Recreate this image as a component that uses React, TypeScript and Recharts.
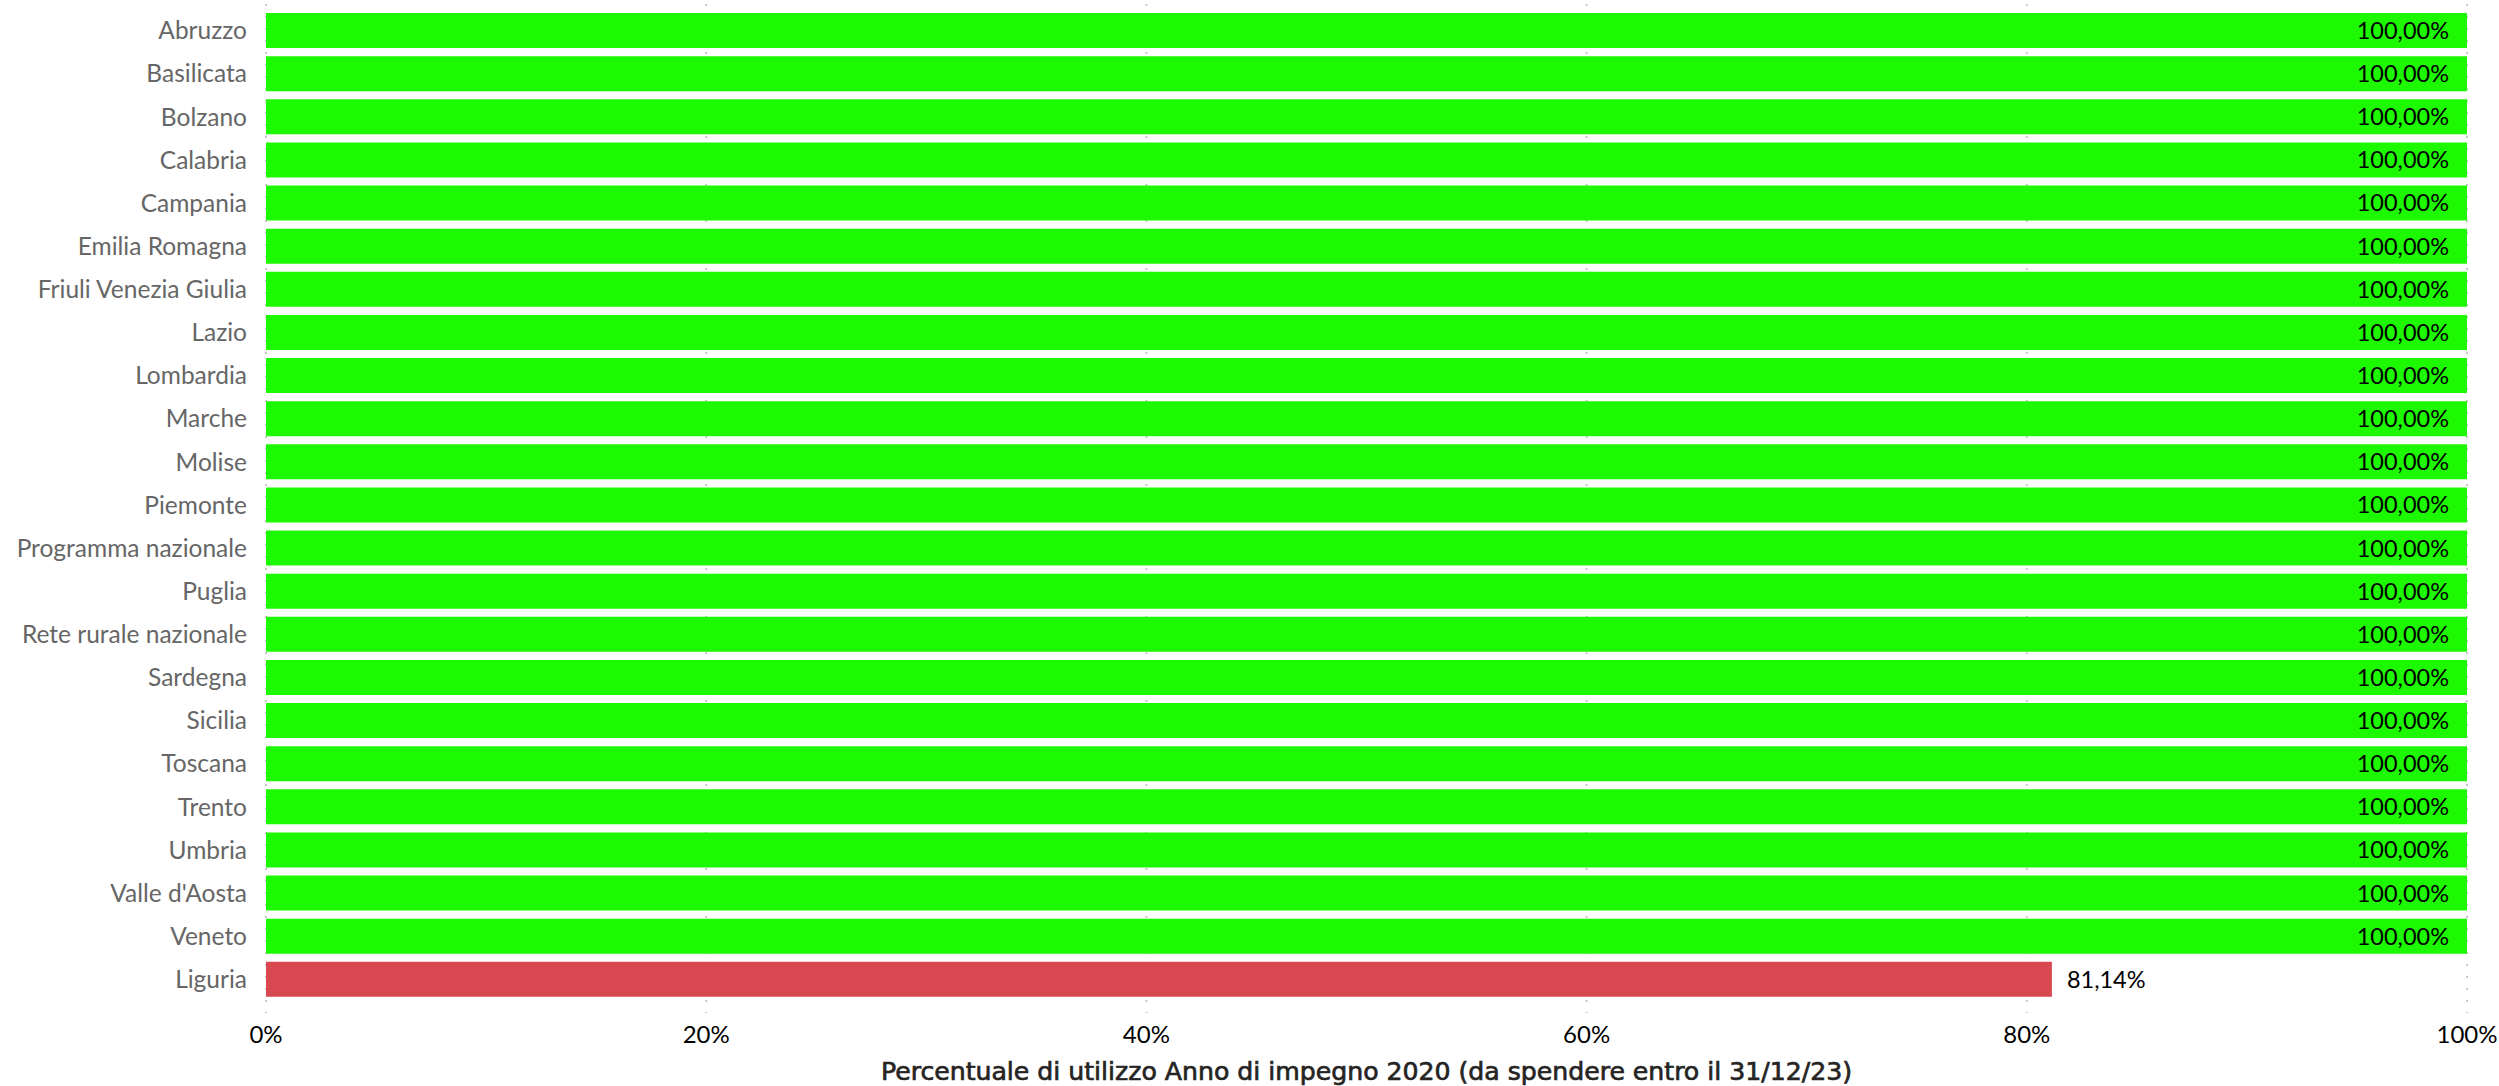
import React from 'react';
import { BarChart, Bar, XAxis, YAxis, CartesianGrid, Cell, LabelList } from 'recharts';

const regions: string[] = [
  'Abruzzo', 'Basilicata', 'Bolzano', 'Calabria', 'Campania', 'Emilia Romagna',
  'Friuli Venezia Giulia', 'Lazio', 'Lombardia', 'Marche', 'Molise', 'Piemonte',
  'Programma nazionale', 'Puglia', 'Rete rurale nazionale', 'Sardegna', 'Sicilia',
  'Toscana', 'Trento', 'Umbria', "Valle d'Aosta", 'Veneto', 'Liguria',
];
const utilizzo: number[] = [
  100, 100, 100, 100, 100, 100, 100, 100, 100, 100, 100, 100,
  100, 100, 100, 100, 100, 100, 100, 100, 100, 100, 81.14,
];
const xTicks: number[] = [0, 20, 40, 60, 80, 100];
const axisTitle = 'Percentuale di utilizzo Anno di impegno 2020 (da spendere entro il 31/12/23)';

const GREEN = '#1DF900';
const RED = '#D94751';

const data = regions.map((r, i) => ({ name: r, value: utilizzo[i] }));

const fmt = (v: number) => v.toFixed(2).replace('.', ',') + '%';

const DataLabel = (props: any) => {
  const { x, y, width, height, value } = props;
  const fs = 23.5;
  const cy = y + height / 2 + fs * 0.36;
  if (value >= 100) {
    return (
      <text x={x + width - 18} y={cy} textAnchor="end" fontSize={fs} fill="#000" fontFamily="Lato, 'Open Sans', sans-serif">
        {fmt(value)}
      </text>
    );
  }
  return (
    <text x={x + width + 15} y={cy} textAnchor="start" fontSize={fs} fill="#000" fontFamily="Lato, 'Open Sans', sans-serif">
      {fmt(value)}
    </text>
  );
};

const TitleLabel = (props: any) => {
  const vb = props.viewBox || {};
  const cx = vb.x + vb.width / 2;
  return (
    <text
      x={cx}
      y={1080}
      textAnchor="middle"
      fontSize={24}
      fontWeight={400}
      fill="#252423"
      stroke="#252423"
      strokeWidth={0.6}
      fontFamily="'DejaVu Sans Condensed', 'DejaVu Sans', sans-serif"
      textLength={971}
      lengthAdjust="spacingAndGlyphs"
    >
      {axisTitle}
    </text>
  );
};

export default function App() {
  return (
    <div style={{ position: 'absolute', left: 0, top: 0, background: '#fff' }}>
      <BarChart
        width={2499}
        height={1086}
        data={data}
        layout="vertical"
        margin={{ top: 4, right: 32, bottom: 0, left: 0 }}
        barSize={35}
      >
        <CartesianGrid
          horizontal={false}
          vertical={true}
          stroke="#c8c8c8"
          strokeWidth={2}
          strokeDasharray="2 10"
        />
        <XAxis
          type="number"
          domain={[0, 100]}
          ticks={xTicks}
          tickFormatter={(v: number) => `${v}%`}
          axisLine={false}
          tickLine={false}
          tickSize={6}
          tickMargin={7}
          height={73}
          tick={{ fontSize: 24, fill: '#000', fontFamily: "Lato, 'Open Sans', sans-serif" }}
          interval={0}
          label={<TitleLabel />}
        />
        <YAxis
          type="category"
          dataKey="name"
          width={266}
          axisLine={false}
          tickLine={false}
          tickSize={6}
          tickMargin={13}
          interval={0}
          padding={{ top: 5, bottom: 12 }}
          tick={{ fontSize: 24.5, fill: '#666666', fontFamily: "Lato, 'Open Sans', sans-serif" }}
        />
        <Bar dataKey="value" isAnimationActive={false}>
          {data.map((d, i) => (
            <Cell key={i} fill={d.value >= 100 ? GREEN : RED} />
          ))}
          <LabelList dataKey="value" content={<DataLabel />} />
        </Bar>
      </BarChart>
    </div>
  );
}
